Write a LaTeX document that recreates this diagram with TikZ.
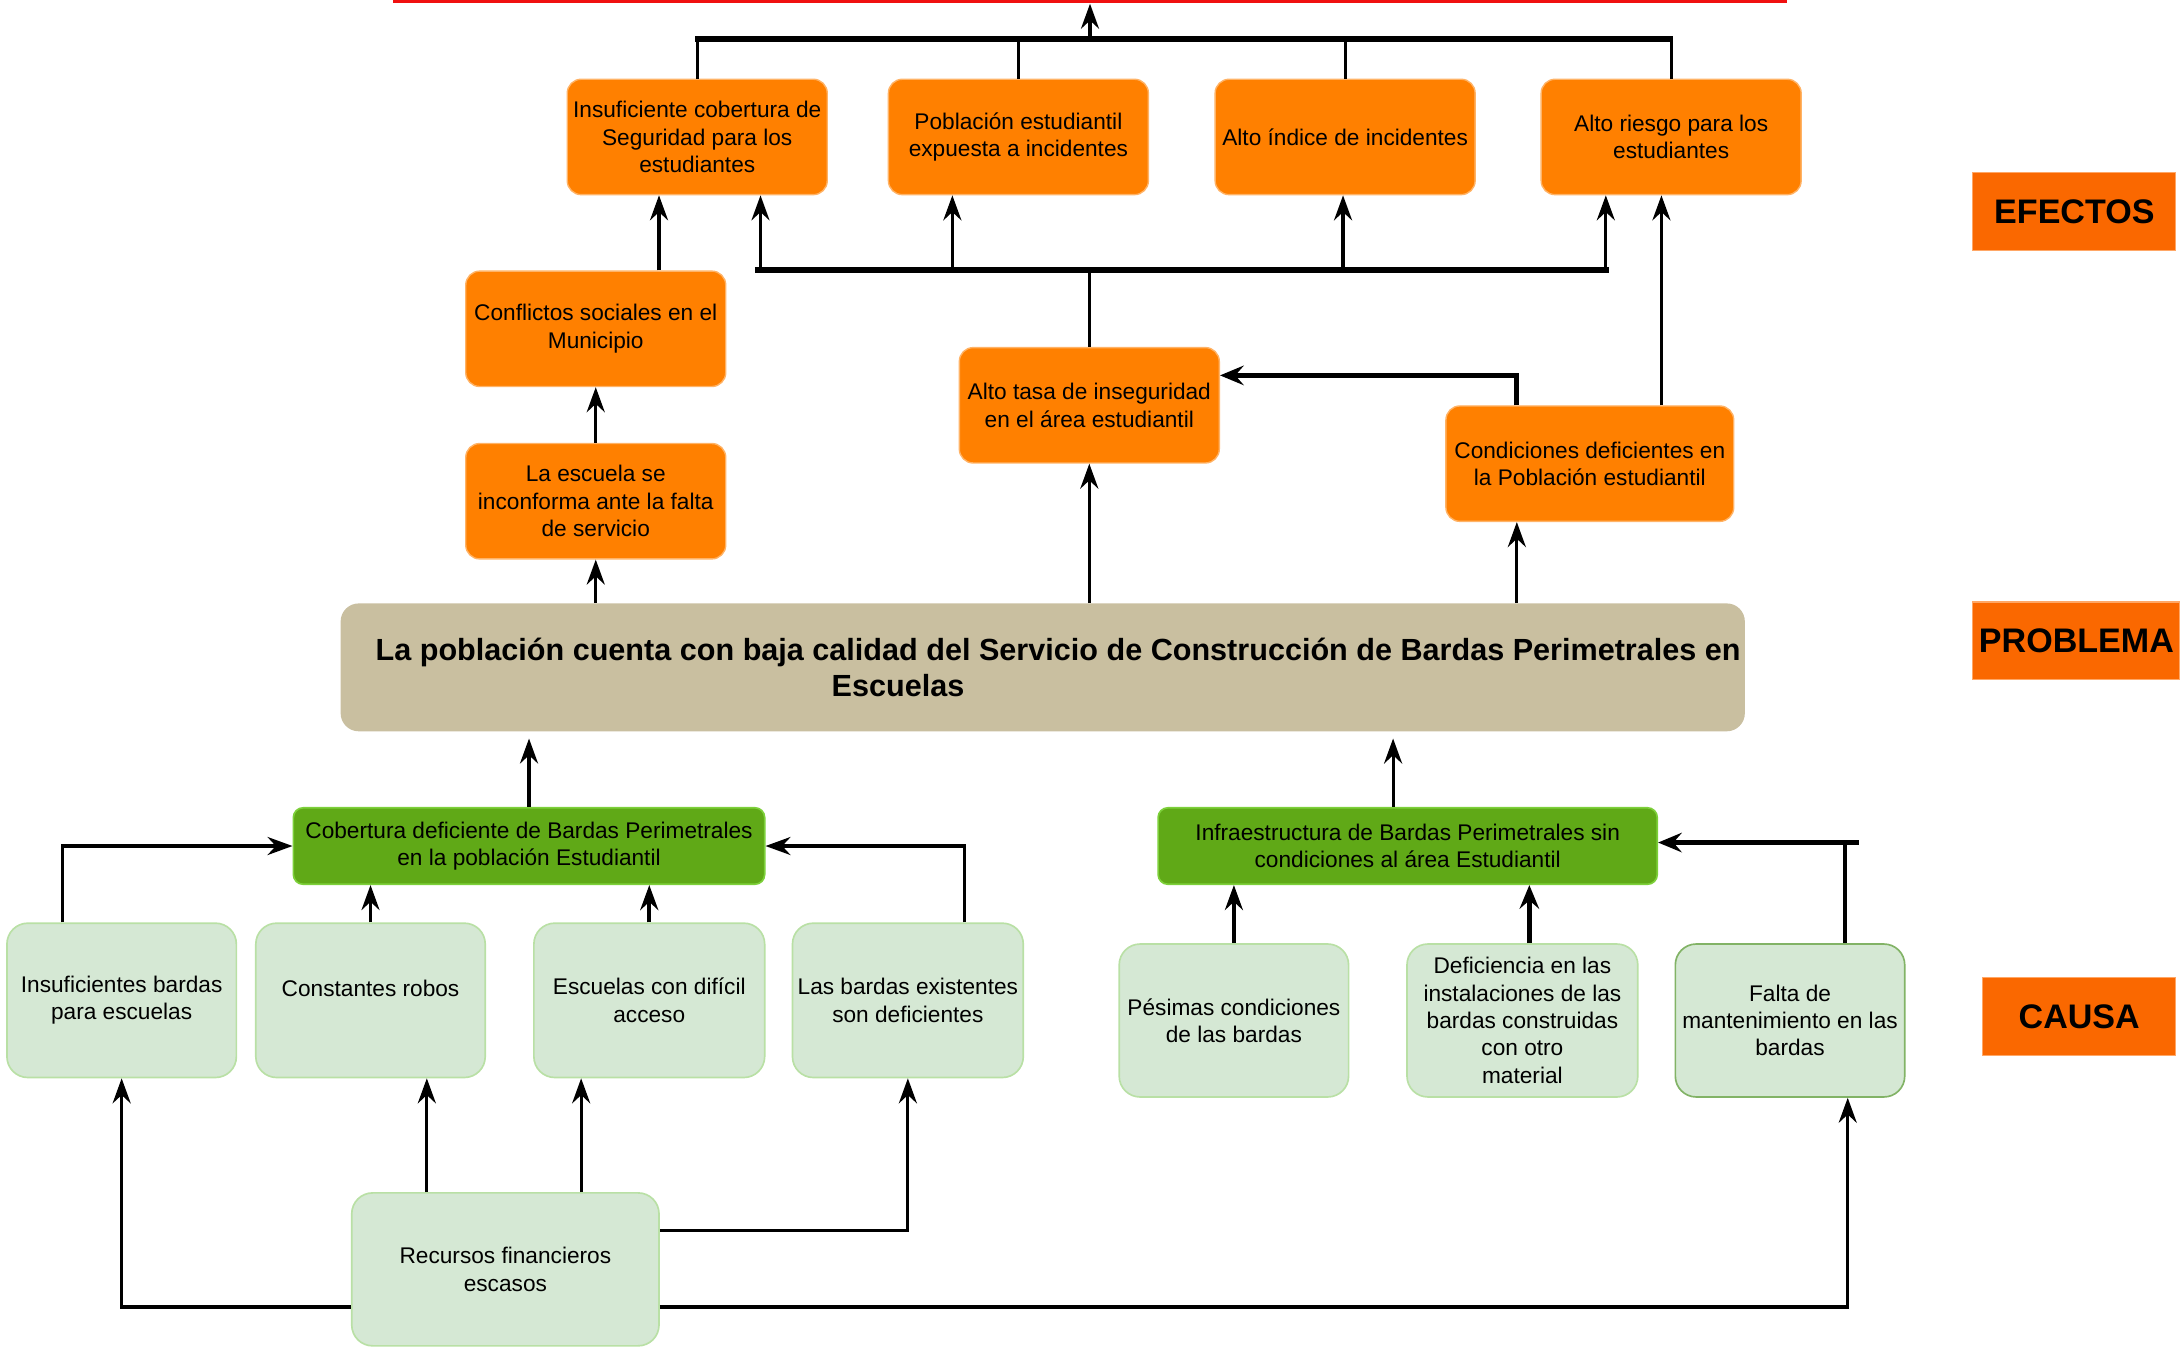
\documentclass[tikz,border=0pt]{standalone}
\usepackage{fontspec}
\setmainfont{Liberation Sans}
\usetikzlibrary{arrows.meta}
\definecolor{effor}{HTML}{FF8000}
\definecolor{efford}{HTML}{FFB366}
\definecolor{lblor}{HTML}{FA6800}
\definecolor{lblord}{HTML}{FFA766}
\definecolor{probfill}{HTML}{C9BFA0}
\definecolor{gfill}{HTML}{60A917}
\definecolor{gdraw}{HTML}{7DD03A}
\definecolor{lgfill}{HTML}{D5E8D4}
\definecolor{lgdraw}{HTML}{B9E0A5}
\definecolor{lgdark}{HTML}{82B366}
\definecolor{goalred}{HTML}{F01010}
\begin{document}
\begin{tikzpicture}[x=1pt,y=-1pt,
  boxtext/.style={align=center, font=\fontsize{16.3}{19.7}\selectfont, inner sep=1pt, text=black},
  ebox/.style={boxtext, rectangle, rounded corners=10pt, fill=effor, draw=efford, line width=1pt},
  gbox/.style={boxtext, rectangle, rounded corners=7pt, fill=gfill, draw=gdraw, line width=1.2pt},
  lbox/.style={boxtext, rectangle, rounded corners=15pt, fill=lgfill, draw=lgdraw, line width=1.2pt},
  probbox/.style={rectangle, rounded corners=13pt, fill=probfill, draw=none, inner sep=0pt},
  lblbox/.style={rectangle, fill=lblor, draw=lblord, line width=0.8pt, font=\bfseries\fontsize{24.5}{28}\selectfont},
  ln/.style={line width=2.3pt, draw=black},
  bus/.style={line width=4.2pt, draw=black},
  tip/.style={-{Stealth[length=18pt,width=13pt,inset=6pt]}},
  arr/.style={ln, tip},
  arrthick/.style={line width=3.5pt, -{Stealth[length=17pt,width=14pt,inset=6pt]}}
]
\useasboundingbox (0,0) rectangle (1568,970);

% goal bar (cut off at top)
\node[rectangle, fill=goalred, draw=none, minimum width=1002pt, minimum height=12pt, inner sep=0pt] (goal) at (784,-3.5) {};

% effects
\node[ebox, minimum width=187pt, minimum height=83pt] (e1) at (501.5,98.5) {Insuficiente cobertura de\\Seguridad para los\\estudiantes};
\node[ebox, minimum width=187pt, minimum height=83pt] (e2) at (732.5,98.5) {Población estudiantil\\expuesta a incidentes};
\node[ebox, minimum width=187pt, minimum height=83pt] (e3) at (967.5,98.5) {Alto índice de incidentes};
\node[ebox, minimum width=187pt, minimum height=83pt] (e4) at (1202,98.5) {Alto riesgo para los\\estudiantes};

\node[ebox, minimum width=187pt, minimum height=83pt] (c1) at (428.5,236.5) {Conflictos sociales en el\\Municipio};
\node[ebox, minimum width=187pt, minimum height=83pt] (esc) at (428.5,360.5) {La escuela se\\inconforma ante la falta\\de servicio};
\node[ebox, minimum width=187pt, minimum height=83pt] (at) at (783.5,291.5) {Alto tasa de inseguridad\\en el área estudiantil};
\node[ebox, minimum width=207pt, minimum height=83pt] (cond) at (1143.5,333.5) {Condiciones deficientes en\\la Población estudiantil};

% problem
\node[probbox, minimum width=1010pt, minimum height=92pt] (prob) at (750,480) {};
\node[font=\bfseries\fontsize{22}{26.5}\selectfont, align=left, inner sep=0pt, anchor=west] (probtxt) at (270,480) {La población cuenta con baja calidad del Servicio de Construcción de Bardas Perimetrales en\\\hspace*{328pt}Escuelas};

% labels
\node[lblbox, minimum width=146pt, minimum height=56pt] (lef) at (1492,152) {EFECTOS};
\node[lblbox, minimum width=149pt, minimum height=56pt] (lpr) at (1493.5,461) {PROBLEMA};
\node[lblbox, minimum width=139pt, minimum height=56pt] (lca) at (1495.5,731) {CAUSA};

% causes
\node[gbox, minimum width=339pt, minimum height=55pt] (g1) at (380.5,608.5) {Cobertura deficiente de Bardas Perimetrales\\en la población Estudiantil};
\node[gbox, minimum width=359pt, minimum height=55pt] (g2) at (1012.5,608.5) {Infraestructura de Bardas Perimetrales sin\\condiciones al área Estudiantil};

\node[lbox, minimum width=165pt, minimum height=111pt] (l1) at (87.5,719.5) {Insuficientes bardas\\para escuelas};
\node[lbox, minimum width=165pt, minimum height=111pt] (l2) at (266.5,719.5) {Constantes robos\\[-2pt]\mbox{}};
\node[lbox, minimum width=166pt, minimum height=111pt] (l3) at (467,719.5) {Escuelas con difícil\\acceso};
\node[lbox, minimum width=166pt, minimum height=111pt] (l4) at (653,719.5) {Las bardas existentes\\son deficientes};
\node[lbox, minimum width=221pt, minimum height=110pt] (r) at (363.5,913) {Recursos financieros\\escasos};

\node[lbox, minimum width=165pt, minimum height=110pt] (p1) at (887.5,734) {Pésimas condiciones\\de las bardas};
\node[lbox, minimum width=166pt, minimum height=110pt] (p2) at (1095,734) {Deficiencia en las\\instalaciones de las\\bardas construidas\\con otro\\material};
\node[lbox, draw=lgdark, minimum width=165pt, minimum height=110pt] (p3) at (1287.5,734) {Falta de\\mantenimiento en las\\bardas};

% helper coordinates
\coordinate (b1L) at (500,28);
\coordinate (b1R) at (1203,28);
\coordinate (b1m) at (784,28);
\coordinate (b2L) at (543,194);
\coordinate (b2R) at (1157,194);
\coordinate (b2a) at (547,194);
\coordinate (b2b) at (685,194);
\coordinate (b2c) at (966,194);
\coordinate (b2d) at (1155,194);
\coordinate (k474) at (474,0);
\coordinate (k1091) at (1091,0);
\coordinate (k1195) at (1195,0);
\coordinate (k270) at (0,270);
\coordinate (k1002) at (1002,0);
\coordinate (k45) at (45,0);
\coordinate (k694) at (694,0);
\coordinate (k307) at (307,0);
\coordinate (k418) at (418,0);
\coordinate (k885) at (0,885);
\coordinate (k940) at (0,940);
\coordinate (k1329) at (1329,0);
\coordinate (k1327) at (1327,0);
\coordinate (k1100) at (1100,0);
\coordinate (k606) at (0,606);
\coordinate (hend) at (1337,606);

% top bus
\draw[bus] (b1L) -- (b1R);
\draw[arr] (b1m) -- (goal.south);
\draw[ln] (e1.north) -- (e1.north |- b1L);
\draw[ln] (e2.north) -- (e2.north |- b1L);
\draw[ln] (e3.north) -- (e3.north |- b1L);
\draw[ln] (e4.north) -- (e4.north |- b1L);

% second bus
\draw[bus] (b2L) -- (b2R);
\draw[arr] (b2a) -- (b2a |- e1.south);
\draw[arr] (b2b) -- (b2b |- e2.south);
\draw[arr] (b2c) -- (b2c |- e3.south);
\draw[arr] (b2d) -- (b2d |- e4.south);
\draw[ln] (at.north) -- (at.north |- b2L);

\draw[arr] (c1.north -| k474) -- (e1.south -| k474);
\draw[arr] (esc.north) -- (c1.south);
\draw[arr] (prob.north -| esc.south) -- (esc.south);
\draw[arr] (prob.north -| at.south) -- (at.south);
\draw[arr] (prob.north -| k1091) -- (cond.south -| k1091);
\draw[arrthick] (cond.north -| k1091) |- (at.east |- k270);
\draw[arr] (cond.north -| k1195) -- (e4.south -| k1195);

% causes to problem
\draw[arr] (g1.north) -- ([yshift=-5pt]g1.north |- prob.south);
\draw[arr] (g2.north -| k1002) -- ([yshift=-5pt]prob.south -| k1002);

\draw[arr] (l1.north -| k45) |- (g1.west);
\draw[arr] (l2.north) -- (l2.north |- g1.south);
\draw[arr, line width=2.8pt] (l3.north) -- (l3.north |- g1.south);
\draw[arr] (l4.north -| k694) |- (g1.east);

\draw[arr] (r.north -| k307) -- (l2.south -| k307);
\draw[arr] (r.north -| k418) -- (l3.south -| k418);
\draw[arr] (r.east |- k885) -| (l4.south);
\draw[arr] (r.west |- k940) -| (l1.south);
\draw[arr] (r.east |- k940) -| (p3.south -| k1329);

\draw[arr] (p1.north) -- (p1.north |- g2.south);
\draw[arrthick] (p2.north -| k1100) -- (g2.south -| k1100);
\draw[line width=3.5pt] (p3.north -| k1327) -- (k1327 |- k606);
\draw[arrthick] (hend) -- (hend -| g2.east);
\end{tikzpicture}
\end{document}
